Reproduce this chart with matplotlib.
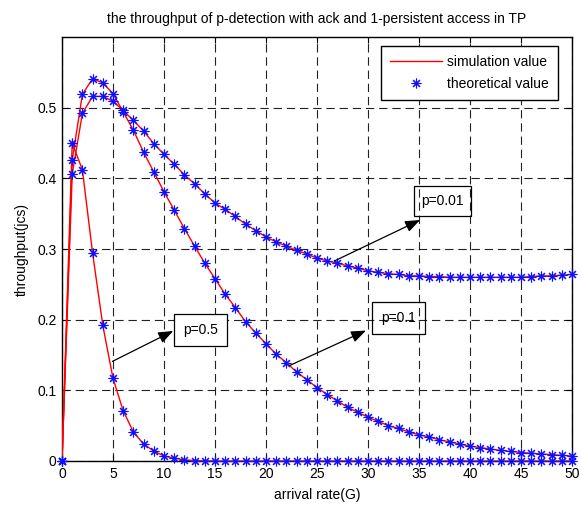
import matplotlib
matplotlib.use("Agg")
import matplotlib.pyplot as plt
from matplotlib.lines import Line2D

plt.rcParams['font.family'] = ['Liberation Sans', 'DejaVu Sans']
plt.rcParams['lines.scale_dashes'] = False

G = list(range(0, 51))

# theoretical values
thr_p05 = [0, 0.450, 0.412, 0.294, 0.192, 0.117, 0.071, 0.041, 0.024, 0.014,
           0.007, 0.004, 0.0015, 0.0006, 0.0002, 0, 0, 0, 0, 0,
           0, 0, 0, 0, 0, 0, 0, 0, 0, 0,
           0, 0, 0, 0, 0, 0, 0, 0, 0, 0,
           0, 0, 0, 0, 0, 0, 0, 0, 0, 0, 0]
thr_p01 = [0, 0.426, 0.519, 0.541, 0.535, 0.520, 0.494, 0.468, 0.437, 0.409,
           0.381, 0.355, 0.329, 0.304, 0.280, 0.258, 0.236, 0.217, 0.197, 0.181,
           0.166, 0.151, 0.139, 0.126, 0.115, 0.104, 0.094, 0.085, 0.076, 0.069,
           0.062, 0.056, 0.050, 0.046, 0.041, 0.037, 0.034, 0.030, 0.027, 0.024,
           0.021, 0.019, 0.017, 0.015, 0.0135, 0.012, 0.011, 0.010, 0.009, 0.008, 0.007]
thr_p001 = [0, 0.406, 0.492, 0.516, 0.516, 0.509, 0.496, 0.482, 0.467, 0.449,
            0.434, 0.420, 0.405, 0.392, 0.378, 0.365, 0.356, 0.346, 0.335, 0.326,
            0.317, 0.310, 0.304, 0.298, 0.293, 0.287, 0.283, 0.280, 0.276, 0.273,
            0.269, 0.267, 0.265, 0.264, 0.262, 0.262, 0.261, 0.261, 0.260, 0.260,
            0.260, 0.260, 0.260, 0.260, 0.260, 0.260, 0.261, 0.262, 0.262, 0.263, 0.264]

# simulation values (follow the theory curves in the picture)
sim_p05 = list(thr_p05)
sim_p01 = list(thr_p01)
sim_p001 = list(thr_p001)

xticks = [0, 5, 10, 15, 20, 25, 30, 35, 40, 45, 50]
yticks = [0, 0.1, 0.2, 0.3, 0.4, 0.5]
ytick_labels = ['0', '0.1', '0.2', '0.3', '0.4', '0.5']

fig = plt.figure(figsize=(5.82, 5.05), dpi=100)
ax = fig.add_axes([62/582, 44/505, 510/582, 424/505])

ast = (8, 2, 0)
for s in (sim_p05, sim_p01, sim_p001):
    ax.plot(G, s, color='#ff0000', lw=1.0, zorder=3)
for t in (thr_p05, thr_p01, thr_p001):
    ax.plot(G, t, linestyle='none', marker=ast, markersize=7, markeredgewidth=0.8,
            color='#1010ff', zorder=4, clip_on=False)

ax.set_xlim(0, 50)
ax.set_ylim(0, 0.6)
ax.set_xticks(xticks)
ax.set_yticks(yticks)
ax.set_yticklabels(ytick_labels)
ax.tick_params(direction='in', length=4, width=0.8, top=True, right=True,
               labelsize=10, pad=4, colors='black')
ax.grid(True, color='#222222', linestyle=(0, (6, 3.5)), linewidth=0.8)
for sp in ax.spines.values():
    sp.set_linewidth(1.0)
    sp.set_color('black')

ax.set_title('the throughput of p-detection with ack and 1-persistent access in TP',
             fontsize=10, pad=10)
ax.set_xlabel('arrival rate(G)', fontsize=10, labelpad=5)
ax.set_ylabel('throughput(jcs)', fontsize=10, labelpad=6)

handles = [Line2D([], [], color='#ff0000', lw=1.0),
           Line2D([], [], linestyle='none', marker=ast, markersize=7,
                  markeredgewidth=0.8, color='#1010ff')]
leg = ax.legend(handles, ['simulation value', 'theoretical value'],
                loc='upper right', bbox_to_anchor=(0.9725, 0.979), borderaxespad=0,
                fontsize=10, handlelength=3.7, handletextpad=0.4, labelspacing=0.55,
                borderpad=0.65, fancybox=False, framealpha=1, edgecolor='black',
                numpoints=1)
leg.get_frame().set_linewidth(1.0)
leg.set_zorder(6)

arrow = dict(arrowstyle='-|>,head_length=0.9,head_width=0.35', color='black',
             lw=0.9, shrinkA=0, shrinkB=0)
# p=0.5
ax.annotate('', xy=(10.9, 0.184), xytext=(4.95, 0.141), arrowprops=arrow, zorder=5)
ax.text(13.6, 0.185, 'p=0.5', fontsize=10, ha='center', va='center', zorder=5,
        bbox=dict(boxstyle='square,pad=0.65', facecolor='white', edgecolor='black', lw=0.9))
# p=0.1
ax.annotate('', xy=(29.8, 0.1846), xytext=(22.3, 0.135), arrowprops=arrow, zorder=5)
ax.text(33.0, 0.202, 'p=0.1', fontsize=10, ha='center', va='center', zorder=5,
        bbox=dict(boxstyle='square,pad=0.65', facecolor='none', edgecolor='black', lw=0.9))
# p=0.01
ax.annotate('', xy=(35.1, 0.341), xytext=(26.7, 0.283), arrowprops=arrow, zorder=5)
ax.text(37.3, 0.368, 'p=0.01', fontsize=10, ha='center', va='center', zorder=5,
        bbox=dict(boxstyle='square,pad=0.55', facecolor='none', edgecolor='black', lw=0.9))

fig.savefig('out.png', dpi=100, facecolor='white')
